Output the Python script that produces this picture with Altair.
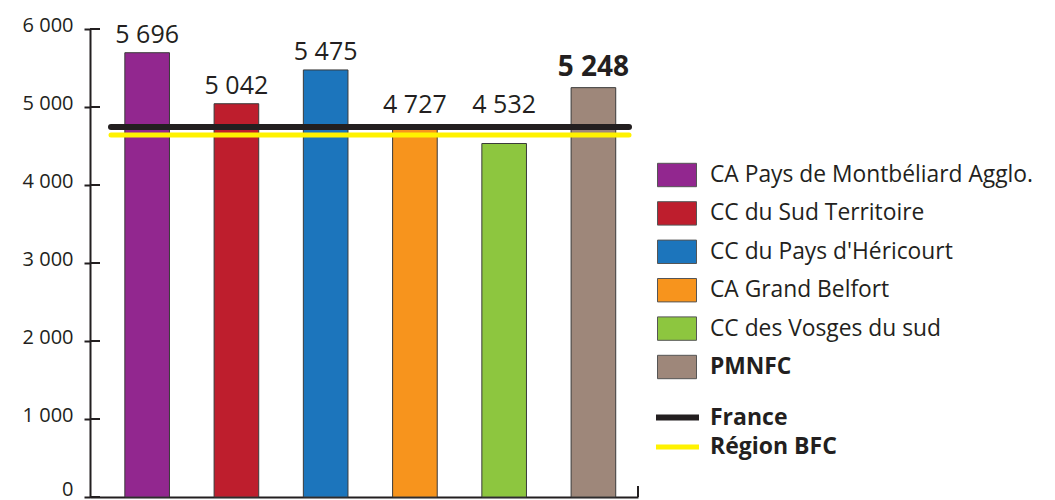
import altair as alt
import pandas as pd

names = ["CA Pays de Montbéliard Agglo.", "CC du Sud Territoire", "CC du Pays d'Héricourt",
         "CA Grand Belfort", "CC des Vosges du sud", "PMNFC"]
values = [5696, 5042, 5475, 4727, 4532, 5248]
colors = ["#92278f", "#be1e2d", "#1c75bc", "#f7941d", "#8dc63f", "#9e877a"]

ref_names = ["France", "Région BFC"]
ref_values = [4745, 4640]
ref_colors = ["#231f20", "#fff200"]
ref_widths = [6, 5]

y_ticks = [0, 1000, 2000, 3000, 4000, 5000, 6000]

FONT = "Open Sans"
INK = "#231f20"

df = pd.DataFrame({"name": names, "value": values})
df["label"] = [f"{v:,}".replace(",", " ") for v in values]
ref_df = pd.DataFrame({"ref": ref_names, "value": ref_values})
tick_df = pd.DataFrame({"v": y_ticks})

W, H = 548, 468

yscale = alt.Scale(domain=[0, 6000], nice=False, zero=True)

bars = alt.Chart(df).mark_bar(stroke="#3a3a3a", strokeWidth=1).encode(
    x=alt.X("name:N", sort=names,
            scale=alt.Scale(paddingInner=0.5, paddingOuter=0.32, align=0.61),
            axis=alt.Axis(labels=False, ticks=False, title=None, domainColor=INK, domainWidth=2)),
    y=alt.Y("value:Q", scale=yscale, title=None,
            axis=alt.Axis(values=y_ticks, title=None, grid=False,
                          labelExpr="replace(format(datum.value, ','), ',', ' ')",
                          tickSize=6, tickWidth=2, tickColor=INK,
                          domainColor=INK, domainWidth=2,
                          labelPadding=11, labelFontSize=20, labelFont=FONT,
                          labelColor=INK,
                          labelOffset={"condition": {"test": "datum.value == 0", "value": -8},
                                       "value": -4})),
    color=alt.Color("name:N", sort=names,
                    scale=alt.Scale(domain=names, range=colors),
                    legend=alt.Legend(title=None, orient="none", legendX=567, legendY=126,
                                      symbolType="M-1,-0.6H1V0.6H-1Z", symbolSize=1521,
                                      symbolStrokeColor="#555555", symbolStrokeWidth=1,
                                      symbolOpacity=1,
                                      labelFont=FONT, labelFontSize=22.8, labelColor=INK,
                                      labelOffset=13, rowPadding=4.4, padding=0,
                                      labelLimit=500,
                                      labelFontWeight=alt.ExprRef(
                                          "datum.label === 'PMNFC' ? 'bold' : 'normal'"))),
)

inner_ticks = alt.Chart(tick_df).mark_rule(color=INK, strokeWidth=2).encode(
    y=alt.Y("v:Q", scale=yscale, title=None),
    x=alt.value(0), x2=alt.value(10),
)

rules = alt.Chart(ref_df).mark_rule(strokeCap="round").encode(
    y=alt.Y("value:Q", scale=yscale, title=None),
    x=alt.value(21), x2=alt.value(539),
    stroke=alt.Stroke("ref:N", sort=ref_names,
                      scale=alt.Scale(domain=ref_names, range=ref_colors),
                      legend=alt.Legend(title=None, orient="none", legendX=570, legendY=371,
                                        symbolType="M-1.5,0H1.5", symbolSize=822,
                                        symbolStrokeWidth=6,
                                        labelFont=FONT, labelFontSize=23, labelColor=INK,
                                        labelFontWeight="bold", labelOffset=15,
                                        rowPadding=0, padding=0)),
    strokeWidth=alt.StrokeWidth("ref:N", scale=alt.Scale(domain=ref_names, range=ref_widths),
                                legend=None),
)

labels_normal = alt.Chart(df).transform_filter(alt.datum.name != "PMNFC").transform_calculate(
    anchor="max(datum.value, 4790)"
).mark_text(
    font=FONT, fontSize=25, color=INK, baseline="alphabetic", dy=-10
).encode(
    x=alt.X("name:N", sort=names),
    y=alt.Y("anchor:Q", scale=yscale, title=None),
    text="label:N",
)

labels_bold = alt.Chart(df).transform_filter(alt.datum.name == "PMNFC").mark_text(
    font=FONT, fontSize=28, fontWeight="bold", color=INK, baseline="alphabetic", dy=-12
).encode(
    x=alt.X("name:N", sort=names),
    y=alt.Y("value:Q", scale=yscale, title=None),
    text="label:N",
)

end_tick = alt.Chart(df).mark_rule(color=INK, strokeWidth=2).encode(
    x=alt.value(W), y=alt.value(H - 11), y2=alt.value(H),
)

chart = alt.layer(bars, inner_ticks, rules, labels_normal, labels_bold, end_tick).properties(
    width=W, height=H,
    autosize=alt.AutoSizeParams(type="none"),
    padding={"left": 82, "top": 21, "right": 409, "bottom": 4},
).configure_view(stroke=None)

chart.save("out.html", embed_options={"renderer": "svg", "actions": False})
